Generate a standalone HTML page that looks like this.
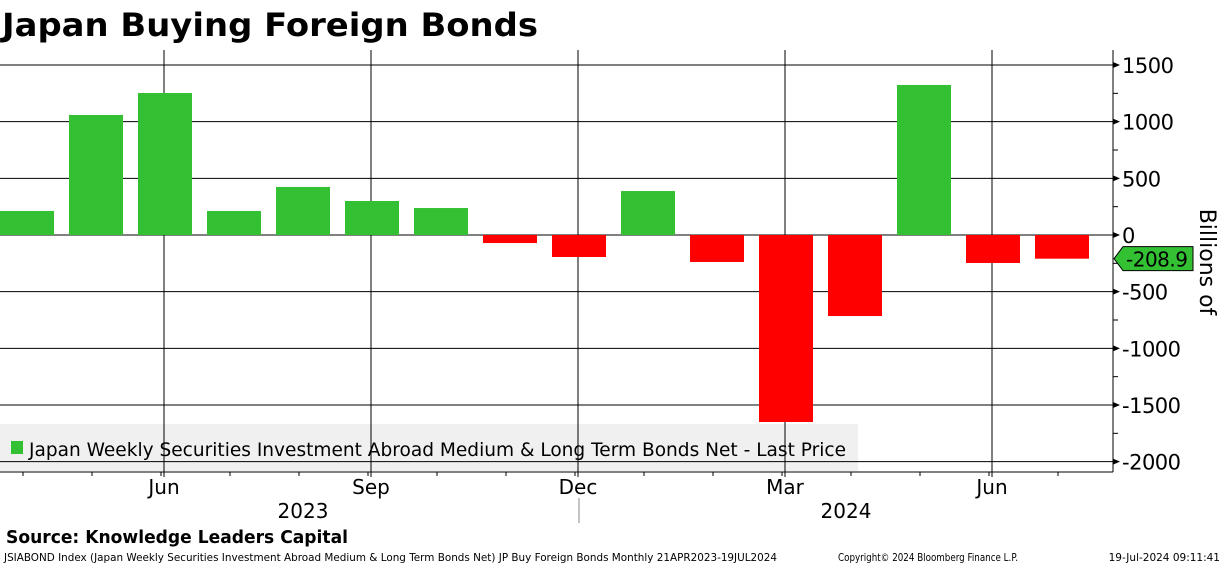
<!DOCTYPE html>
<html><head><meta charset="utf-8"><style>
body{margin:0;background:#fff;font-family:"DejaVu Sans","Liberation Sans",sans-serif;}
svg text{font-family:"DejaVu Sans","Liberation Sans",sans-serif;}
</style></head><body>
<svg id="chart" width="1224" height="565" xmlns="http://www.w3.org/2000/svg">
<text x="2" y="36" font-size="32" font-weight="bold" fill="#000" textLength="536" lengthAdjust="spacingAndGlyphs">Japan Buying Foreign Bonds</text>
<rect x="0" y="424" width="858" height="47" fill="#f0f0f0"/>
<g id="grid"></g><g id="bars"></g><g id="axis"></g>
<rect x="11" y="441" width="12" height="13" fill="#33c033"/>
<text x="29" y="456" font-size="19" fill="#000" textLength="817" lengthAdjust="spacingAndGlyphs">Japan Weekly Securities Investment Abroad Medium &amp; Long Term Bonds Net - Last Price</text>
<text x="1200" y="262" font-size="22" fill="#000" transform="rotate(90 1200 262)" text-anchor="middle">Billions of</text>
<text x="6" y="543" font-size="18" font-weight="bold" textLength="342" lengthAdjust="spacingAndGlyphs">Source: Knowledge Leaders Capital</text>
<text x="4" y="561" font-size="10.5" textLength="773" lengthAdjust="spacingAndGlyphs">JSIABOND Index (Japan Weekly Securities Investment Abroad Medium &amp; Long Term Bonds Net) JP Buy Foreign Bonds  Monthly 21APR2023-19JUL2024</text>
<text x="838" y="561" font-size="10.5" textLength="180" lengthAdjust="spacingAndGlyphs">Copyright© 2024 Bloomberg Finance L.P.</text>
<text x="1220" y="561" font-size="10.5" text-anchor="end">19-Jul-2024 09:11:41</text>
</svg>
<script>
const values=[212,1059,1253,212,424,300,238,-71,-194,388,-238,-1650,-715,1324,-247,-209];
const yTicks=[1500,1000,500,0,-500,-1000,-1500,-2000];
const monthLabels=["Jun","Sep","Dec","Mar","Jun"];
const monthIdx=[2,5,8,11,14];
const yearLabels=["2023","2024"];
const lastValue="-208.9";
const NS="http://www.w3.org/2000/svg";
const y=v=>235-v*0.11333;
const x=i=>27+i*69;
const L=0,R=1113,T=50,B=472;
function mk(t,a,p){const e=document.createElementNS(NS,t);for(const k in a)e.setAttribute(k,a[k]);document.getElementById(p).appendChild(e);return e;}
yTicks.forEach(v=>{
 const g=mk('line',{x1:L,x2:R,y1:y(v),y2:y(v),stroke:'#000','stroke-width':1},'grid');
 
 
 const p=mk('polygon',{points:`${R},${y(v)-3} ${R+7},${y(v)} ${R},${y(v)+3}`,fill:'#000'},'axis');
 
 
 const t=mk('text',{x:R+9,y:y(v)+8,'font-size':21,'letter-spacing':'-0.5'},'axis');t.textContent=v;
 
 
});
[1250,750,250,-250,-750,-1250,-1750].forEach(v=>{const m=mk('line',{x1:R,x2:R+5,y1:y(v),y2:y(v),stroke:'#000'},'axis');});
monthIdx.forEach((i,j)=>{
 const g=mk('line',{x1:x(i)-1,x2:x(i)-1,y1:T,y2:B+5,stroke:'#000','stroke-width':1},'grid');
 
 
 const t=mk('text',{x:x(i)-1,y:494,'font-size':20,'text-anchor':'middle'},'axis');t.textContent=monthLabels[j];
 
 
});
for(let i=0;i<values.length;i++){const m=mk('line',{x1:x(i)-4,x2:x(i)-4,y1:B,y2:B+4,stroke:'#000'},'axis');}
const sep=mk('line',{x1:579,x2:579,y1:498,y2:523,stroke:'#888'},'axis');


[[303,yearLabels[0]],[846,yearLabels[1]]].forEach(([px,s])=>{const t=mk('text',{x:px,y:518,'font-size':20,'text-anchor':'middle'},'axis');t.textContent=s;
 
 });
values.forEach((v,i)=>{
 const r=mk('rect',{x:x(i)-27,width:54,y:Math.min(y(v),y(0)),height:Math.abs(y(v)-y(0)),fill:v>=0?'#33c033':'#ff0000'},'bars');
 
 
});
const ax=mk('line',{x1:R,x2:R,y1:T,y2:B,stroke:'#000'},'axis');


const bx=mk('line',{x1:L,x2:R,y1:B,y2:B,stroke:'#000'},'axis');


const lv=values[values.length-1],ly=y(lv);
const tag=mk('polygon',{points:`${R+1},${ly} ${R+10},${ly-12} ${R+80},${ly-12} ${R+80},${ly+12} ${R+10},${ly+12}`,fill:'#33c033',stroke:'#000'},'axis');


const tt=mk('text',{x:R+13,y:ly+8,'font-size':20,'letter-spacing':'-0.5'},'axis');tt.textContent=lastValue;


</script>
</body></html>
